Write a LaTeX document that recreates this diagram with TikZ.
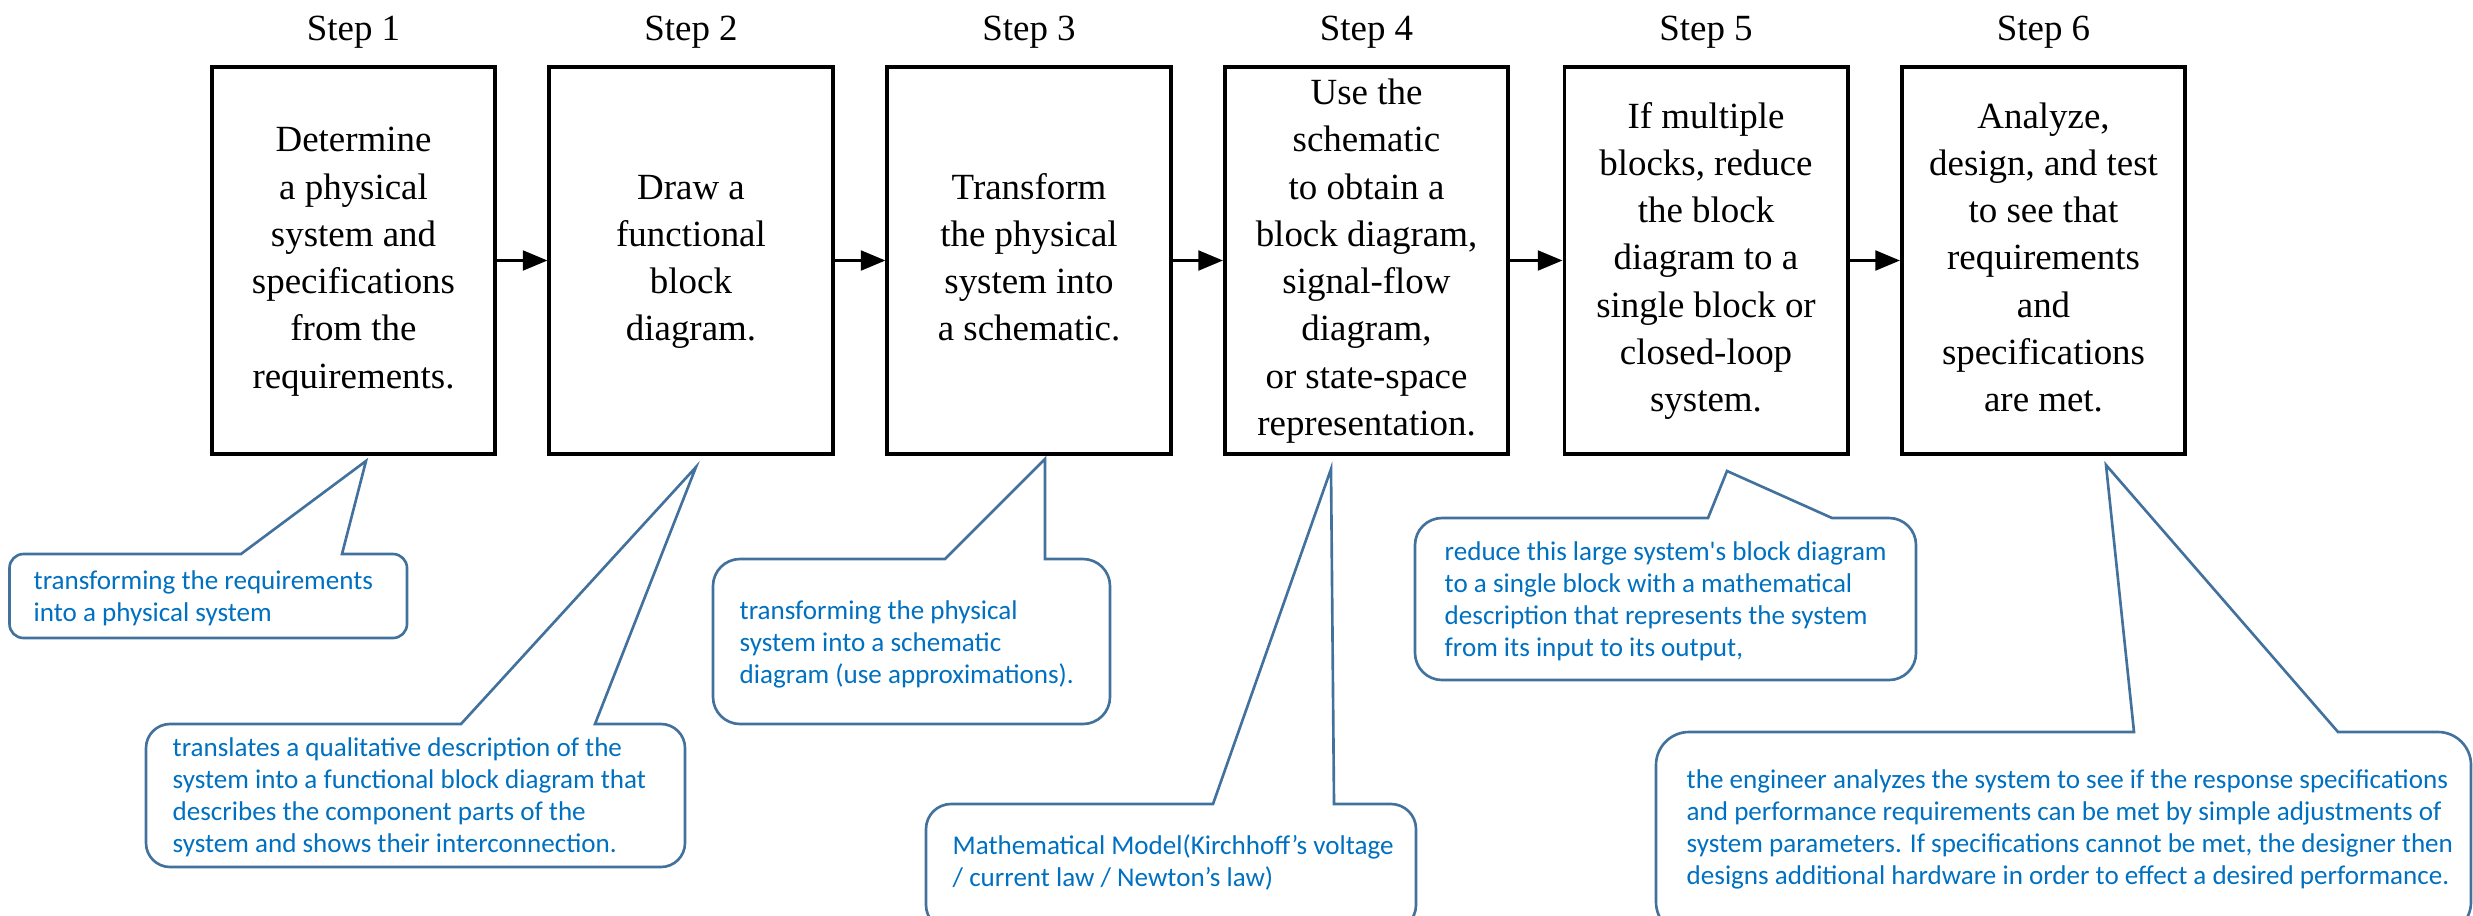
\documentclass[tikz,border=0pt]{standalone}
\usepackage{fontspec}
\setmainfont{Liberation Serif}
\newfontfamily\calloutfont{Carlito}
\usetikzlibrary{arrows.meta}
\definecolor{calloutline}{HTML}{41719C}
\definecolor{callouttext}{HTML}{0070C0}
\tikzset{
  stepbox/.style={draw=black, line width=1.1pt, minimum width=2.83cm, minimum height=3.87cm,
    align=center, inner sep=0pt, font=\fontsize{10.5pt}{13.45pt}\selectfont},
  steplabel/.style={anchor=base, inner sep=0pt, font=\fontsize{10.5pt}{13pt}\selectfont},
  flow/.style={line width=0.85pt, -{Triangle[length=7pt,width=5.6pt]}},
  balloon/.style={draw=calloutline, line width=0.75pt, line join=miter},
  note/.style={anchor=west, align=left, inner sep=0pt, text=callouttext,
    font=\calloutfont\fontsize{7.7pt}{9.07pt}\selectfont},
}
% rounded balloon with a wedge on its top edge:
% #1 left, #2 top, #3 right, #4 bottom, #5/#6 wedge base, #7 tip coordinate, #8 corner radius
\newcommand\drawballoon[8]{%
  \draw[balloon] (#7) -- (#5,#2) -- ([xshift=#8]#1,#2) arc[start angle=90,end angle=180,radius=#8]
    -- ([yshift=#8]#1,#4) arc[start angle=180,end angle=270,radius=#8]
    -- ([xshift=-#8]#3,#4) arc[start angle=270,end angle=360,radius=#8]
    -- ([yshift=-#8]#3,#2) arc[start angle=0,end angle=90,radius=#8]
    -- (#6,#2) -- cycle;}
\begin{document}
\begin{tikzpicture}[x=0.01cm,y=-0.01cm]
\useasboundingbox (0,0) rectangle (2473,915);

% the six steps
\node[stepbox] (s1) at (353.5,260.5) {\strut Determine\\ a physical\\ system and\\ specifications\\ from the\\ requirements.\strut};
\node[stepbox] (s2) at (691,260.5) {\strut Draw a\\ functional\\ block\\ diagram.\strut};
\node[stepbox] (s3) at (1029,260.5) {\strut Transform\\ the physical\\ system into\\ a schematic.\strut};
\node[stepbox] (s4) at (1366.5,260.5) {\strut Use the\\ schematic\\ to obtain a\\ block diagram,\\ signal-flow\\ diagram,\\ or state-space\\ representation.\strut};
\node[stepbox] (s5) at (1706,260.5) {\strut If multiple\\ blocks, reduce\\ the block\\ diagram to a\\ single block or\\ closed-loop\\ system.\strut};
\node[stepbox] (s6) at (2043.5,260.5) {\strut Analyze,\\ design, and test\\ to see that\\ requirements\\ and\\ specifications\\ are met.\strut};

\node[steplabel] (l1) at (353.5,40) {Step 1};
\node[steplabel] (l2) at (691,40) {Step 2};
\node[steplabel] (l3) at (1029,40) {Step 3};
\node[steplabel] (l4) at (1366.5,40) {Step 4};
\node[steplabel] (l5) at (1706,40) {Step 5};
\node[steplabel] (l6) at (2043.5,40) {Step 6};

\draw[flow] (s1) -- (s2);
\draw[flow] (s2) -- (s3);
\draw[flow] (s3) -- (s4);
\draw[flow] (s4) -- (s5);
\draw[flow] (s5) -- (s6);

% balloon tips
\coordinate (t1) at (366,461);
\coordinate (t2) at (696,467);
\coordinate (t3) at (1045,459);
\coordinate (t4) at (1331,469);
\coordinate (t5) at (1727,471);
\coordinate (t6) at (2106,465);

\drawballoon{9.5}{554}{407}{638}{241}{342}{t1}{0.14cm}
\drawballoon{146}{724}{685}{867}{461}{595}{t2}{0.24cm}
\drawballoon{713}{559}{1110}{724}{945}{1045}{t3}{0.27cm}
\drawballoon{926}{804}{1416}{930}{1213}{1334}{t4}{0.25cm}
\drawballoon{1415}{518}{1916}{680}{1708}{1832}{t5}{0.27cm}
\drawballoon{1656}{732}{2471}{935}{2134}{2338}{t6}{0.33cm}

\node[note] (n1) at (33,599) {\strut transforming the requirements\\ into a physical system\strut};
\node[note] (n2) at (172,798) {\strut translates a qualitative description of the\\ system into a functional block diagram that\\ describes the component parts of the\\ system and shows their interconnection.\strut};
\node[note] (n3) at (739,645) {\strut transforming the physical\\ system into a schematic\\ diagram (use approximations).\strut};
\node[note] (n4) at (952,864) {\strut Mathematical Model(Kirchhoff’s voltage\\ / current law / Newton’s law)\strut};
\node[note] (n5) at (1444,602) {\strut reduce this large system's block diagram\\ to a single block with a mathematical\\ description that represents the system\\ from its input to its output,\strut};
\node[note] (n6) at (1686,830) {\strut the engineer analyzes the system to see if the response specifications\\ and performance requirements can be met by simple adjustments of\\ system parameters. If specifications cannot be met, the designer then\\ designs additional hardware in order to effect a desired performance.\strut};
\end{tikzpicture}
\end{document}
